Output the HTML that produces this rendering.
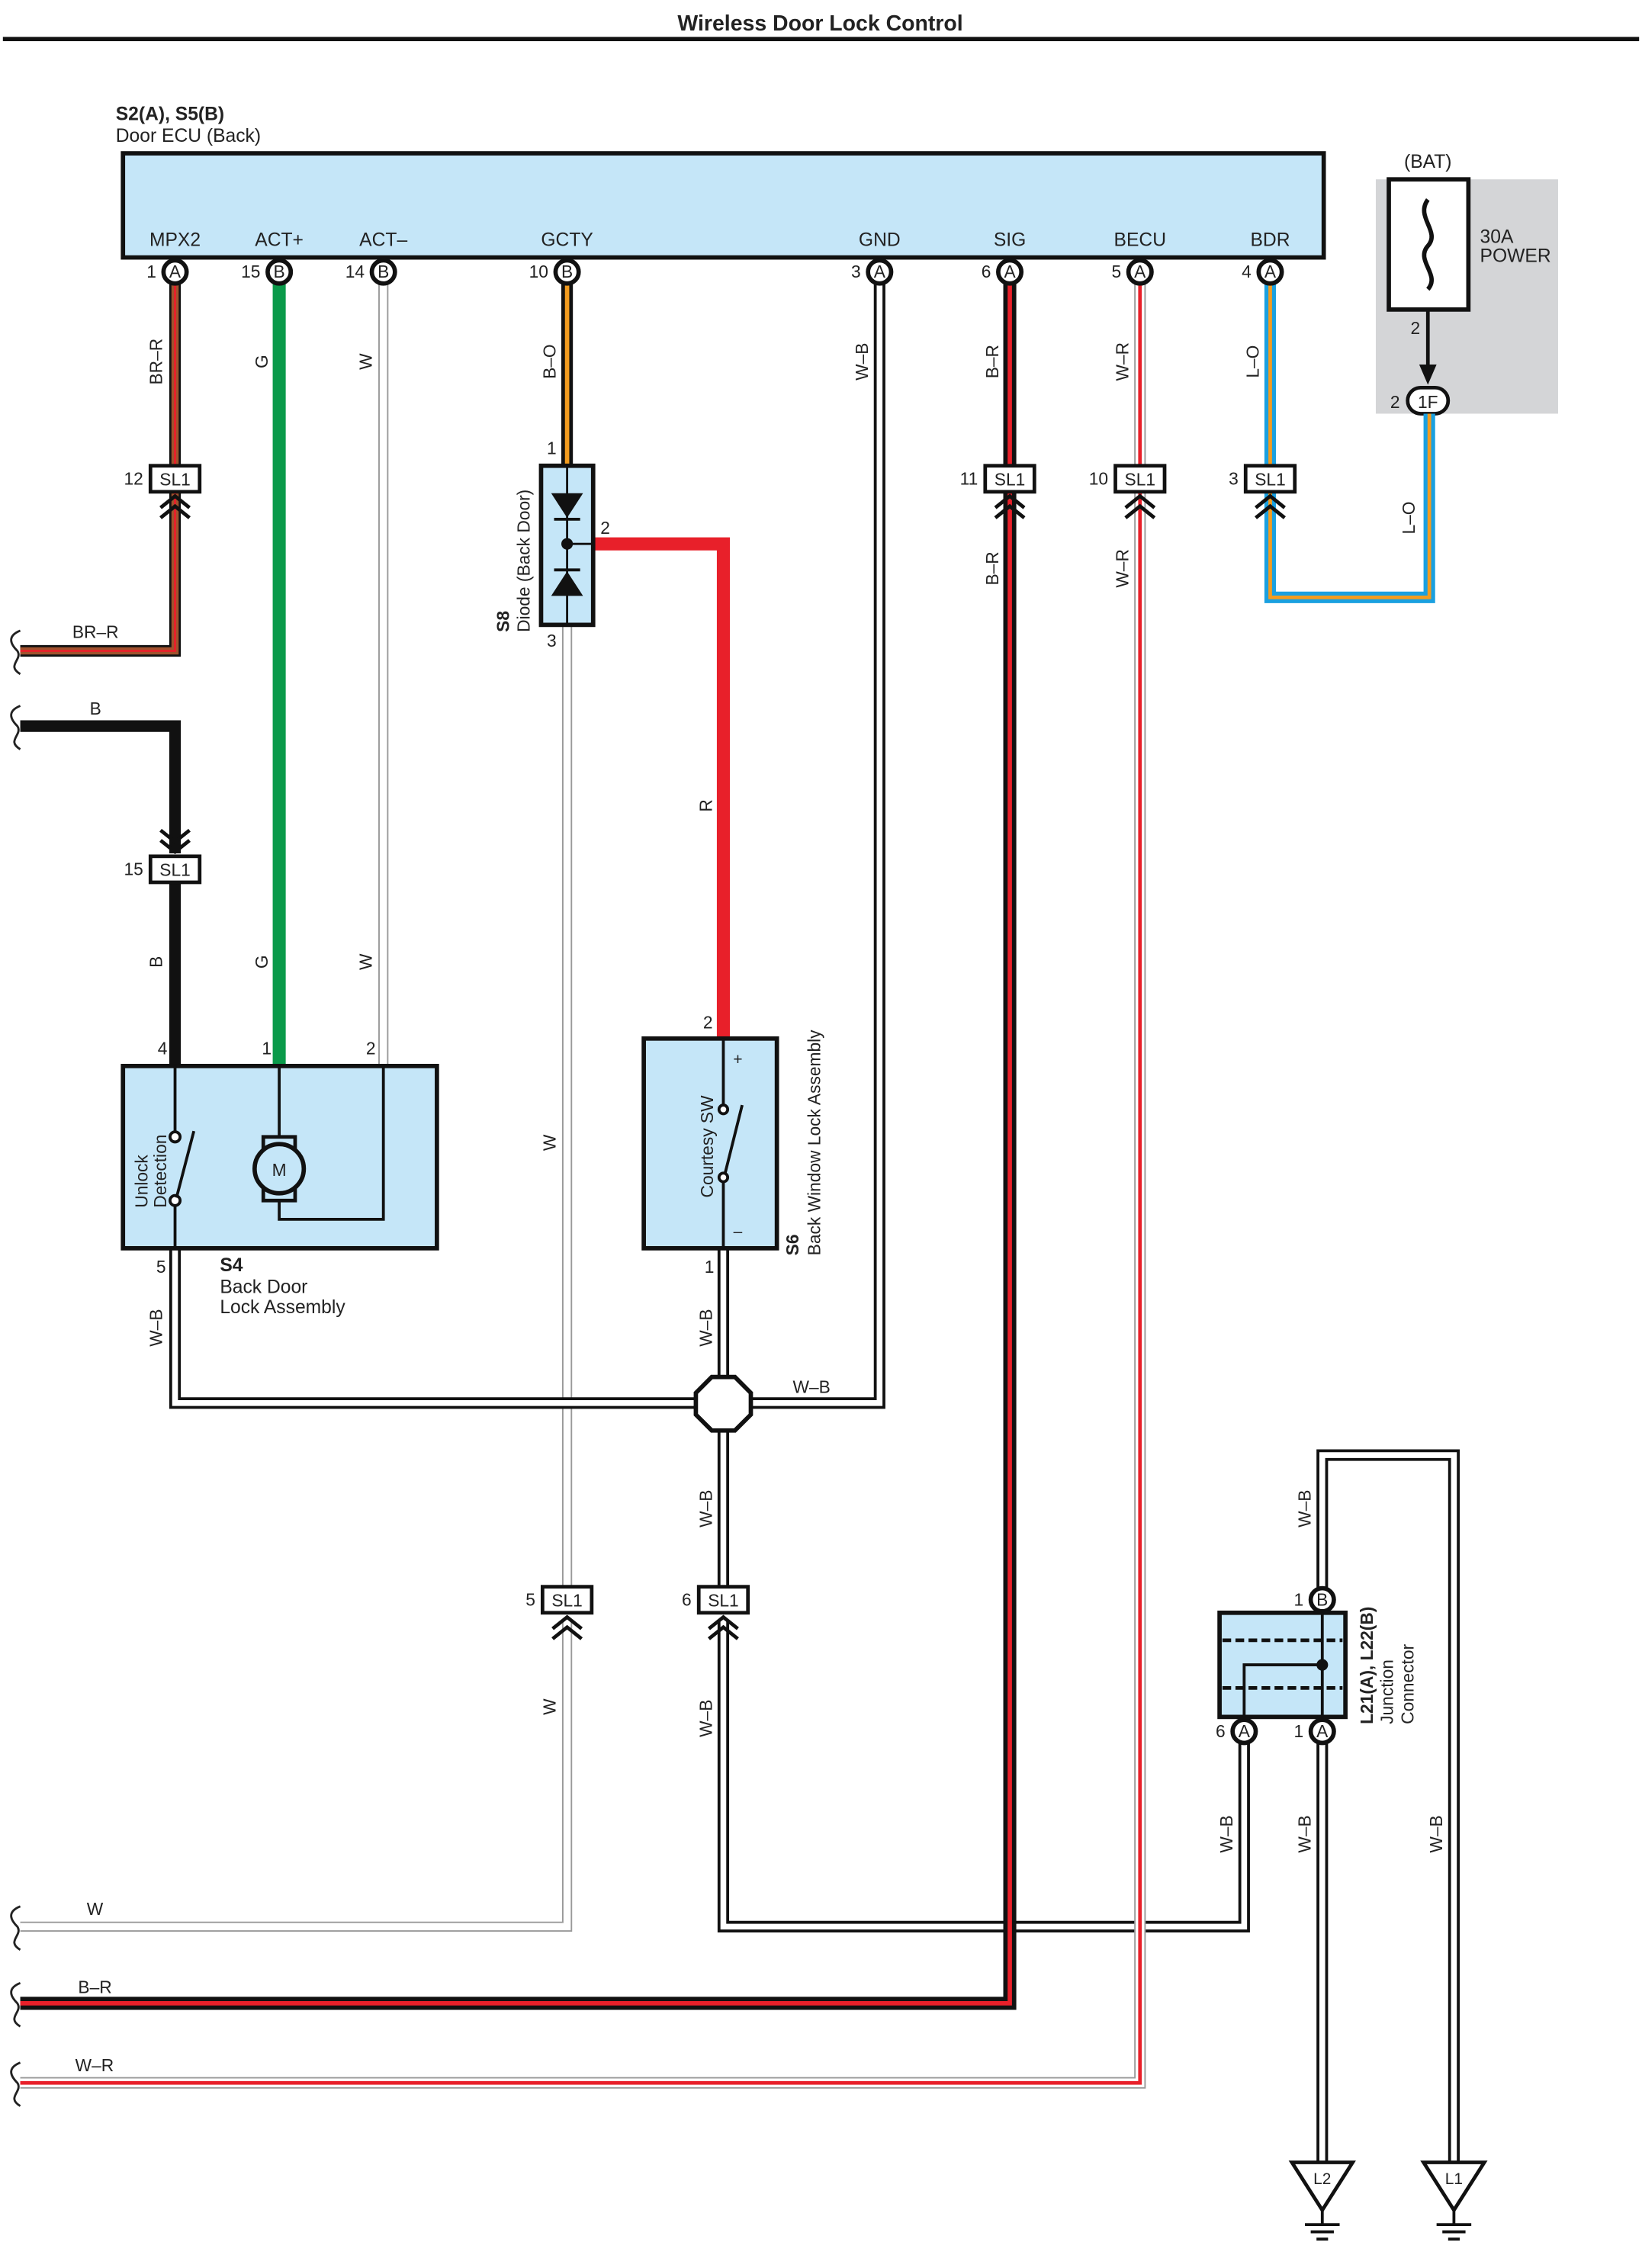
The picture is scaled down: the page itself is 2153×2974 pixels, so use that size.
<!DOCTYPE html>
<html><head><meta charset="utf-8"><style>
html,body{margin:0;padding:0;background:#fff}
svg{display:block}
text{font-family:"Liberation Sans",Arial,sans-serif;fill:#222}
</style></head><body>
<svg width="2153" height="2974" viewBox="0 0 1135 1568" preserveAspectRatio="none" xmlns="http://www.w3.org/2000/svg">
<defs>
<g id="sl1"><rect x="-17" y="-9" width="34" height="18" fill="#fff" stroke="#111" stroke-width="2.5"/><text x="0" y="4.5" font-size="12" text-anchor="middle">SL1</text><path d="M-10 20 L0 12 L10 20 M-10 27 L0 19 L10 27" fill="none" stroke="#111" stroke-width="2.5"/></g>
<g id="sq"><path d="M14 -14 C4 -10 8 -4 12 0 C16 6 4 10 14 16" fill="none" stroke="#222" stroke-width="1.5"/></g>
</defs>
<rect width="1135" height="1568" fill="#fff"/>
<text x="567" y="21" font-size="15" font-weight="bold" text-anchor="middle">Wireless Door Lock Control</text>
<line x1="2" y1="27" x2="1133" y2="27" stroke="#111" stroke-width="3"/>

<text x="80" y="83" font-size="13" font-weight="bold">S2(A), S5(B)</text>
<text x="80" y="98" font-size="13">Door ECU (Back)</text>
<rect x="85" y="106" width="830" height="72" fill="#c5e6f8" stroke="#111" stroke-width="3"/>
<g font-size="13" text-anchor="middle">
<text x="121" y="170">MPX2</text><text x="193" y="170">ACT+</text><text x="265" y="170">ACT–</text><text x="392" y="170">GCTY</text>
<text x="608" y="170">GND</text><text x="698" y="170">SIG</text><text x="788" y="170">BECU</text><text x="878" y="170">BDR</text>
</g>

<!-- BAT -->
<rect x="951" y="124" width="126" height="162" fill="#d4d5d7"/>
<text x="987" y="116" font-size="13" text-anchor="middle">(BAT)</text>
<rect x="960" y="124" width="55" height="90" fill="#fff" stroke="#111" stroke-width="3"/>
<path d="M987 138 C978 150 996 160 987 170 C978 180 996 190 987 200" fill="none" stroke="#111" stroke-width="3"/>
<text x="1023" y="168" font-size="13">30A</text><text x="1023" y="181" font-size="13">POWER</text>
<text x="975" y="231" font-size="12">2</text>
<line x1="987" y1="214" x2="987" y2="258" stroke="#111" stroke-width="2.5"/>
<path d="M981 252 L987 266 L993 252 Z" fill="#111"/>
<rect x="973" y="268" width="28" height="18" rx="9" fill="#fff" stroke="#111" stroke-width="2.5"/>
<text x="987" y="282" font-size="12" text-anchor="middle">1F</text>
<text x="961" y="282" font-size="12">2</text>

<g fill="none" stroke-linejoin="miter">
<path d="M121 196 V322" stroke="#111" stroke-width="8"/><path d="M121 196 V322" stroke="#a0522d" stroke-width="5"/><path d="M121 196 V322" stroke="#e8202a" stroke-width="1.5"/>
<path d="M121 340 V450 H14" stroke="#111" stroke-width="8"/><path d="M121 340 V450 H14" stroke="#a0522d" stroke-width="5"/><path d="M121 340 V450 H14" stroke="#e8202a" stroke-width="1.5"/>
<path d="M14 502 H121 V590" stroke="#111" stroke-width="8"/>
<path d="M121 610 V737" stroke="#111" stroke-width="8"/>
<path d="M193 196 V737" stroke="#0a9a4a" stroke-width="9"/>
<path d="M265 196 V737" stroke="#999" stroke-width="7"/><path d="M265 196 V737" stroke="#fff" stroke-width="5"/>
<path d="M392 196 V322" stroke="#111" stroke-width="8"/><path d="M392 196 V322" stroke="#f39c1f" stroke-width="3"/>
<path d="M392 432 V1098" stroke="#999" stroke-width="7"/><path d="M392 432 V1098" stroke="#fff" stroke-width="5"/>
<path d="M392 1120 V1332 H14" stroke="#999" stroke-width="7"/><path d="M392 1120 V1332 H14" stroke="#fff" stroke-width="5"/>
<path d="M410 376 H500 V718" stroke="#e8202a" stroke-width="9"/>
<path d="M608 196 V970 H121 V863" stroke="#111" stroke-width="8"/><path d="M608 196 V970 H121 V863" stroke="#fff" stroke-width="4"/>
<path d="M500 863 V1098" stroke="#111" stroke-width="8"/><path d="M500 863 V1098" stroke="#fff" stroke-width="4"/>
<path d="M500 1120 V1332 H860 V1205" stroke="#111" stroke-width="8"/><path d="M500 1120 V1332 H860 V1205" stroke="#fff" stroke-width="4"/>
<path d="M698 196 V322" stroke="#111" stroke-width="9"/><path d="M698 196 V322" stroke="#e8202a" stroke-width="3"/>
<path d="M698 340 V1385 H14" stroke="#111" stroke-width="9"/><path d="M698 340 V1385 H14" stroke="#e8202a" stroke-width="3"/>
<path d="M788 196 V322" stroke="#999" stroke-width="8"/><path d="M788 196 V322" stroke="#fff" stroke-width="6"/><path d="M788 196 V322" stroke="#e8202a" stroke-width="2.5"/>
<path d="M788 340 V1440 H14" stroke="#999" stroke-width="8"/><path d="M788 340 V1440 H14" stroke="#fff" stroke-width="6"/><path d="M788 340 V1440 H14" stroke="#e8202a" stroke-width="2.5"/>
<path d="M878 196 V322" stroke="#1aa0e0" stroke-width="8"/><path d="M878 196 V322" stroke="#f39c1f" stroke-width="2.5"/>
<path d="M878 340 V413 H988 V286" stroke="#1aa0e0" stroke-width="8"/><path d="M878 340 V413 H988 V286" stroke="#f39c1f" stroke-width="2.5"/>
<path d="M914 1098 V1006 H1005 V1495" stroke="#111" stroke-width="8"/><path d="M914 1098 V1006 H1005 V1495" stroke="#fff" stroke-width="4"/>
<path d="M914 1205 V1495" stroke="#111" stroke-width="8"/><path d="M914 1205 V1495" stroke="#fff" stroke-width="4"/>
</g>

<use href="#sq" x="0" y="450"/><use href="#sq" x="0" y="502"/><use href="#sq" x="0" y="1332"/><use href="#sq" x="0" y="1385"/><use href="#sq" x="0" y="1440"/>
<g font-size="12">
<text x="50" y="441">BR–R</text><text x="62" y="494">B</text><text x="60" y="1324">W</text><text x="54" y="1378">B–R</text><text x="52" y="1432">W–R</text>
</g>

<g font-size="12" text-anchor="middle">
<g fill="#fff" stroke="#111" stroke-width="3">
<circle cx="121" cy="188" r="8"/><circle cx="193" cy="188" r="8"/><circle cx="265" cy="188" r="8"/><circle cx="392" cy="188" r="8"/>
<circle cx="608" cy="188" r="8"/><circle cx="698" cy="188" r="8"/><circle cx="788" cy="188" r="8"/><circle cx="878" cy="188" r="8"/>
<circle cx="914" cy="1106" r="8"/><circle cx="860" cy="1197" r="8"/><circle cx="914" cy="1197" r="8"/>
</g>
<text x="121" y="192">A</text><text x="193" y="192">B</text><text x="265" y="192">B</text><text x="392" y="192">B</text>
<text x="608" y="192">A</text><text x="698" y="192">A</text><text x="788" y="192">A</text><text x="878" y="192">A</text>
<text x="914" y="1110">B</text><text x="860" y="1201">A</text><text x="914" y="1201">A</text>
</g>
<g font-size="12" text-anchor="end">
<text x="108" y="192">1</text><text x="180" y="192">15</text><text x="252" y="192">14</text><text x="379" y="192">10</text>
<text x="595" y="192">3</text><text x="685" y="192">6</text><text x="775" y="192">5</text><text x="865" y="192">4</text>
<text x="901" y="1110">1</text><text x="847" y="1201">6</text><text x="901" y="1201">1</text>
</g>

<use href="#sl1" x="121" y="331"/><use href="#sl1" x="698" y="331"/><use href="#sl1" x="788" y="331"/><use href="#sl1" x="878" y="331"/>
<use href="#sl1" x="392" y="1106"/><use href="#sl1" x="500" y="1106"/>
<g transform="translate(121 601)"><rect x="-17" y="-9" width="34" height="18" fill="#fff" stroke="#111" stroke-width="2.5"/><text x="0" y="4.5" font-size="12" text-anchor="middle">SL1</text><path d="M-10 -27 L0 -19 L10 -27 M-10 -20 L0 -12 L10 -20" fill="none" stroke="#111" stroke-width="2.5"/></g>
<g font-size="12" text-anchor="end">
<text x="99" y="335">12</text><text x="676" y="335">11</text><text x="766" y="335">10</text><text x="856" y="335">3</text>
<text x="99" y="605">15</text><text x="370" y="1110">5</text><text x="478" y="1110">6</text>
</g>

<rect x="374" y="322" width="36" height="110" fill="#c5e6f8" stroke="#111" stroke-width="3"/>
<line x1="392" y1="322" x2="392" y2="432" stroke="#111" stroke-width="1.5"/>
<path d="M381 341 L403 341 L392 358 Z" fill="#111"/><line x1="383" y1="359" x2="401" y2="359" stroke="#111" stroke-width="2"/>
<path d="M381 412 L403 412 L392 395 Z" fill="#111"/><line x1="383" y1="394" x2="401" y2="394" stroke="#111" stroke-width="2"/>
<circle cx="392" cy="376" r="4" fill="#111"/><line x1="392" y1="376" x2="410" y2="376" stroke="#111" stroke-width="1.5"/>
<text x="378" y="314" font-size="12">1</text><text x="415" y="369" font-size="12">2</text><text x="378" y="447" font-size="12">3</text>
<text transform="translate(352 437) rotate(-90)" font-size="12" font-weight="bold">S8</text>
<text transform="translate(366 437) rotate(-90)" font-size="12">Diode (Back Door)</text>

<rect x="85" y="737" width="217" height="126" fill="#c5e6f8" stroke="#111" stroke-width="3"/>
<path d="M121 737 V783 M121 830 V863" stroke="#111" stroke-width="2"/>
<circle cx="121" cy="786" r="3.5" fill="#fff" stroke="#111" stroke-width="2"/><circle cx="121" cy="830" r="3.5" fill="#fff" stroke="#111" stroke-width="2"/>
<line x1="122" y1="828" x2="134" y2="782" stroke="#111" stroke-width="2"/>
<path d="M193 737 V786 M193 826 V843 H265 V737" fill="none" stroke="#111" stroke-width="2"/>
<rect x="182" y="786" width="22" height="8" fill="#c5e6f8" stroke="#111" stroke-width="2.5"/>
<rect x="182" y="822" width="22" height="8" fill="#c5e6f8" stroke="#111" stroke-width="2.5"/>
<circle cx="193" cy="808" r="17" fill="#c5e6f8" stroke="#111" stroke-width="3"/>
<text x="193" y="813" font-size="12" text-anchor="middle">M</text>
<text transform="translate(102 835) rotate(-90)" font-size="12">Unlock</text>
<text transform="translate(115 835) rotate(-90)" font-size="12">Detection</text>
<text x="109" y="729" font-size="12">4</text><text x="181" y="729" font-size="12">1</text><text x="253" y="729" font-size="12">2</text>
<text x="108" y="880" font-size="12">5</text>
<text x="152" y="879" font-size="13" font-weight="bold">S4</text>
<text x="152" y="894" font-size="13">Back Door</text><text x="152" y="908" font-size="13">Lock Assembly</text>

<rect x="445" y="718" width="92" height="145" fill="#c5e6f8" stroke="#111" stroke-width="3"/>
<path d="M500 718 V764 M500 816 V863" stroke="#111" stroke-width="2"/>
<circle cx="500" cy="767" r="3" fill="#fff" stroke="#111" stroke-width="2"/><circle cx="500" cy="814" r="3" fill="#fff" stroke="#111" stroke-width="2"/>
<line x1="501" y1="812" x2="513" y2="764" stroke="#111" stroke-width="2"/>
<text x="510" y="736" font-size="11" text-anchor="middle">+</text><text x="510" y="855" font-size="11" text-anchor="middle">–</text>
<text transform="translate(493 828) rotate(-90)" font-size="12">Courtesy SW</text>
<text x="486" y="711" font-size="12">2</text><text x="487" y="880" font-size="12">1</text>
<text transform="translate(552 868) rotate(-90)" font-size="12" font-weight="bold">S6</text>
<text transform="translate(567 868) rotate(-90)" font-size="12">Back Window Lock Assembly</text>

<polygon points="492,952 508,952 519,963 519,978 508,989 492,989 481,978 481,963" fill="#fff" stroke="#111" stroke-width="3"/>

<rect x="843" y="1115" width="87" height="72" fill="#c5e6f8" stroke="#111" stroke-width="3"/>
<path d="M845 1134 H928 M845 1167 H928" stroke="#111" stroke-width="2.5" stroke-dasharray="6 3"/>
<path d="M914 1115 V1187 M914 1151 H860 V1187" fill="none" stroke="#111" stroke-width="2"/>
<circle cx="914" cy="1151" r="4" fill="#111"/>
<text transform="translate(949 1192) rotate(-90)" font-size="12" font-weight="bold">L21(A), L22(B)</text>
<text transform="translate(963 1192) rotate(-90)" font-size="12">Junction</text>
<text transform="translate(977 1192) rotate(-90)" font-size="12">Connector</text>

<g stroke="#111" stroke-width="2.5" fill="#fff">
<polygon points="893,1495 935,1495 914,1528"/><polygon points="984,1495 1026,1495 1005,1528"/>
</g>
<g stroke="#111" stroke-width="2">
<path d="M914 1528 V1538 M902 1538 H926 M906 1543 H922 M910 1548 H918"/>
<path d="M1005 1528 V1538 M993 1538 H1017 M997 1543 H1013 M1001 1548 H1009"/>
</g>
<text x="914" y="1510" font-size="11" text-anchor="middle">L2</text><text x="1005" y="1510" font-size="11" text-anchor="middle">L1</text>

<g font-size="12" text-anchor="middle">
<text transform="translate(112 250) rotate(-90)">BR–R</text>
<text transform="translate(185 250) rotate(-90)">G</text>
<text transform="translate(257 250) rotate(-90)">W</text>
<text transform="translate(384 250) rotate(-90)">B–O</text>
<text transform="translate(600 250) rotate(-90)">W–B</text>
<text transform="translate(690 250) rotate(-90)">B–R</text>
<text transform="translate(780 250) rotate(-90)">W–R</text>
<text transform="translate(870 250) rotate(-90)">L–O</text>
<text transform="translate(978 358) rotate(-90)">L–O</text>
<text transform="translate(690 393) rotate(-90)">B–R</text>
<text transform="translate(780 393) rotate(-90)">W–R</text>
<text transform="translate(492 557) rotate(-90)">R</text>
<text transform="translate(112 665) rotate(-90)">B</text>
<text transform="translate(185 665) rotate(-90)">G</text>
<text transform="translate(257 665) rotate(-90)">W</text>
<text transform="translate(384 790) rotate(-90)">W</text>
<text transform="translate(112 918) rotate(-90)">W–B</text>
<text transform="translate(492 918) rotate(-90)">W–B</text>
<text transform="translate(492 1043) rotate(-90)">W–B</text>
<text transform="translate(906 1043) rotate(-90)">W–B</text>
<text transform="translate(384 1180) rotate(-90)">W</text>
<text transform="translate(492 1188) rotate(-90)">W–B</text>
<text transform="translate(852 1268) rotate(-90)">W–B</text>
<text transform="translate(906 1268) rotate(-90)">W–B</text>
<text transform="translate(997 1268) rotate(-90)">W–B</text>
</g>
<text x="548" y="963" font-size="12">W–B</text>
</svg>
</body></html>
